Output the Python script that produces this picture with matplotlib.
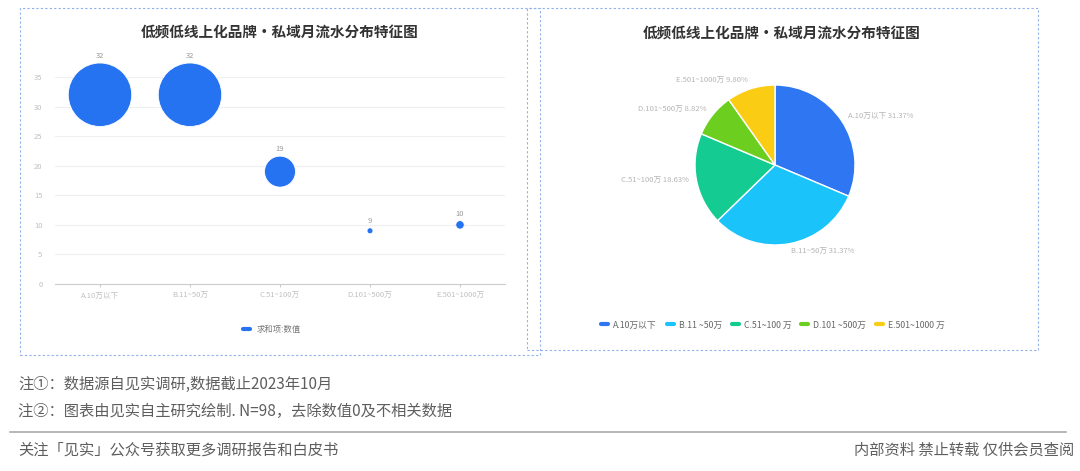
import matplotlib.pyplot as plt
import matplotlib.patches as mpatches
from matplotlib.lines import Line2D

plt.rcParams['font.family'] = ['Noto Sans CJK SC', 'DejaVu Sans']

# data
title = '低频低线上化品牌·私域月流水分布特征图'
bubble_cats = ['A.10万以下', 'B.11~50万', 'C.51~100万', 'D.101~500万', 'E.501~1000万']
bubble_vals = [32, 32, 19, 9, 10]
pie_names = ['A.10万以下', 'B.11~50万', 'C.51~100万', 'D.101~500万', 'E.501~1000万']
pie_legend = ['A.10万以下', 'B.11 ~50万', 'C.51~100 万', 'D.101 ~500万', 'E.501~1000 万']
pie_vals = [32, 32, 19, 9, 10]
yticks = [0, 5, 10, 15, 20, 25, 30, 35]

blue = '#2673f2'
pie_colors = ['#2e76f2', '#1ac4fa', '#14cc91', '#6ccf1f', '#facc14']

W, H = 1080, 471
fig = plt.figure(figsize=(W / 100, H / 100), dpi=100)
fig.patch.set_facecolor('white')


def fx(px):
    return px / W


def fy(py):
    return 1 - py / H


# dashed panel borders
for x0, y0, x1, y1 in [(20, 8, 540, 355), (527, 8, 1038, 350)]:
    fig.add_artist(mpatches.Rectangle((fx(x0), fy(y1)), fx(x1 - x0), (y1 - y0) / H,
                                      transform=fig.transFigure, fill=False,
                                      ec='#8fb0e8', lw=0.8, ls=(0, (2, 2))))

# ---- left bubble chart
ax = fig.add_axes([fx(55), fy(284), fx(450), (284 - 77) / H])
x = list(range(len(bubble_cats)))
vmin = min(bubble_vals)
# bubble diameter grows linearly with value (px)
diam_px = [6 + (v - vmin) * 2.5 for v in bubble_vals]
sizes = [(d * 0.72) ** 2 for d in diam_px]
ax.scatter(x, bubble_vals, s=sizes, color=blue, edgecolor='white', lw=0.6,
           zorder=3, clip_on=False)
for xi, v, d in zip(x, bubble_vals, diam_px):
    ax.annotate(str(v), (xi, v), xytext=(0, d * 0.72 / 2 + 2),
                textcoords='offset points', ha='center', va='bottom',
                fontsize=5.5, color='#999999')
ax.set_xlim(-0.5, 4.5)
ax.set_ylim(0, 35)
ax.set_yticks(yticks)
ax.set_xticks(x)
ax.set_xticklabels(bubble_cats)
ax.tick_params(axis='y', length=0, labelsize=5.5, labelcolor='#c0c0c0', pad=9)
ax.tick_params(axis='x', length=2, color='#cccccc', labelsize=5.5,
               labelcolor='#c0c0c0', pad=4)
ax.grid(axis='y', color='#efefef', lw=0.8)
ax.set_axisbelow(True)
for s in ['top', 'right', 'left']:
    ax.spines[s].set_visible(False)
ax.spines['bottom'].set_color('#cccccc')
ax.spines['bottom'].set_linewidth(0.8)

fig.text(fx(280), fy(32), title, ha='center', va='center', fontsize=10.5,
         fontweight='bold', color='#333333')
h = [Line2D([0], [0], color=blue, lw=3, solid_capstyle='round')]
fig.legend(h, ['求和项:数值'], loc='center', bbox_to_anchor=(fx(272), fy(329)),
           frameon=False, fontsize=6, handlelength=0.8, labelcolor='#777777')

# ---- right pie chart
ax2 = fig.add_axes([fx(695), fy(245), fx(160), 160 / H])
total = sum(pie_vals)
labels = [f'{n} {v / total * 100:.2f}%' for n, v in zip(pie_names, pie_vals)]
wedges, texts = ax2.pie(pie_vals, colors=pie_colors, startangle=90,
                        counterclock=False, labels=labels, labeldistance=1.1,
                        wedgeprops=dict(edgecolor='white', linewidth=1),
                        textprops=dict(fontsize=5.5, color='#b5b5b5'))
ax2.set_xlim(-1, 1)
ax2.set_ylim(-1, 1)
ax2.set_aspect('equal')
fig.text(fx(782), fy(33), title, ha='center', va='center', fontsize=10.5,
         fontweight='bold', color='#333333')
h2 = [Line2D([0], [0], color=c, lw=3, solid_capstyle='round') for c in pie_colors]
fig.legend(h2, pie_legend, loc='center', bbox_to_anchor=(fx(773), fy(325)),
           frameon=False, fontsize=6.3, handlelength=0.8, ncol=5,
           columnspacing=1.1, handletextpad=0.6, labelcolor='#666666')

# ---- footer
fig.text(fx(18), fy(384), '注①：数据源自见实调研,数据截止2023年10月', fontsize=11,
         color='#5e5e5e', va='center')
fig.text(fx(18), fy(411), '注②：图表由见实自主研究绘制. N=98，去除数值0及不相关数据',
         fontsize=11, color='#5e5e5e', va='center')
fig.add_artist(Line2D([fx(10), fx(1066)], [fy(432), fy(432)], color='#aaaaaa',
                      lw=1.2, transform=fig.transFigure))
fig.text(fx(18), fy(450), '关注「见实」公众号获取更多调研报告和白皮书', fontsize=11,
         color='#5e5e5e', va='center')
fig.text(fx(1074), fy(450), '内部资料 禁止转载 仅供会员查阅', fontsize=11,
         color='#5e5e5e', va='center', ha='right')

fig.savefig('out.png', dpi=100, facecolor='white')
